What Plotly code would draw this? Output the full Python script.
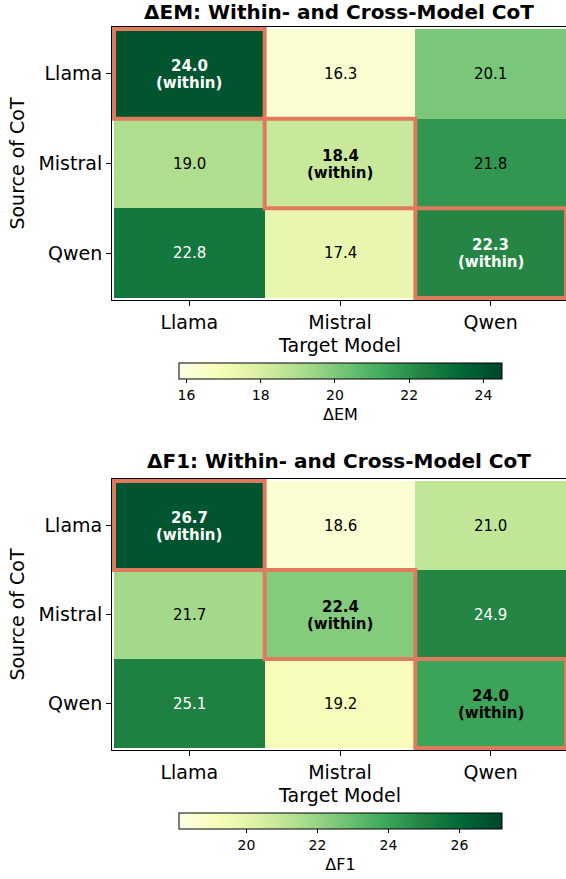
import plotly.graph_objects as go

# ---- data ----
sources = ["Llama", "Mistral", "Qwen"]          # rows: Source of CoT
targets = ["Llama", "Mistral", "Qwen"]          # cols: Target Model
em_values = [
    [24.0, 16.3, 20.1],
    [19.0, 18.4, 21.8],
    [22.8, 17.4, 22.3],
]
f1_values = [
    [26.7, 18.6, 21.0],
    [21.7, 22.4, 24.9],
    [25.1, 19.2, 24.0],
]
em_ticks = [16, 18, 20, 22, 24]
f1_ticks = [20, 22, 24, 26]
panel_titles = ["ΔEM: Within- and Cross-Model CoT", "ΔF1: Within- and Cross-Model CoT"]
cbar_titles = ["ΔEM", "ΔF1"]

# ---- styling ----
W, H = 570, 879          # slightly wider than the window: right edge is clipped as in the original
FONT = "DejaVu Sans"
YLGN = ["#ffffe5", "#f7fcb9", "#d9f0a3", "#addd8e", "#78c679",
        "#41ab5d", "#238443", "#006837", "#004529"]
HILITE = "#E07A5F"

def py(pix):
    return 1 - pix / H

def px_(pix):
    return pix / W

panels = [
    dict(vals=em_values, ticks=em_ticks, top=27, bot=300, cb_top=363, title_y=12),
    dict(vals=f1_values, ticks=f1_ticks, top=479, bot=750, cb_top=813, title_y=461),
]

fig = go.Figure()
annotations = []
shapes = []
layout = {}

for k, p in enumerate(panels):
    vals = p["vals"]
    flat = [v for row in vals for v in row]
    vmin, vmax = min(flat) - 0.5, max(flat) + 0.5
    ax = "" if k == 0 else str(k + 1)
    cax = "coloraxis" if k == 0 else f"coloraxis{k+1}"
    fig.add_trace(go.Heatmap(
        z=vals, x=targets, y=sources, coloraxis=cax,
        xaxis=f"x{ax}", yaxis=f"y{ax}", hoverinfo="skip",
        xgap=0, ygap=0,
    ))
    layout[cax] = dict(
        colorscale=[[i / (len(YLGN) - 1), c] for i, c in enumerate(YLGN)],
        cmin=vmin, cmax=vmax,
        colorbar=dict(
            orientation="h", x=px_((179 + 502) / 2), xanchor="center",
            len=323 / W, lenmode="fraction", thickness=16, thicknessmode="pixels",
            y=py(p["cb_top"]), yanchor="top", ypad=0, xpad=0,
            outlinewidth=1, outlinecolor="black",
            ticks="outside", ticklen=4, tickcolor="black", tickwidth=1,
            tickvals=p["ticks"], ticktext=[str(t) for t in p["ticks"]],
            tickfont=dict(family=FONT, size=14, color="black"),
            title=dict(text=cbar_titles[k], side="bottom",
                       font=dict(family=FONT, size=16, color="black")),
        ),
    )
    layout[f"xaxis{ax}"] = dict(
        domain=[px_(112), px_(568)], anchor=f"y{ax}",
        showline=True, mirror=True, linecolor="black", linewidth=1,
        ticks="outside", ticklen=5, tickcolor="black",
        tickfont=dict(family=FONT, size=19, color="black"),
        title=dict(text="Target Model", standoff=6,
                   font=dict(family=FONT, size=19, color="black")),
        showgrid=False, zeroline=False, fixedrange=True,
    )
    layout[f"yaxis{ax}"] = dict(
        domain=[py(p["bot"]), py(p["top"])], anchor=f"x{ax}",
        autorange="reversed",
        showline=True, mirror=True, linecolor="black", linewidth=1,
        ticks="outside", ticklen=5, tickcolor="black",
        tickfont=dict(family=FONT, size=19, color="black"),
        title=dict(text="Source of CoT", standoff=8,
                   font=dict(family=FONT, size=19, color="black")),
        showgrid=False, zeroline=False, fixedrange=True,
    )
    # panel title
    annotations.append(dict(
        text=f"<b>{panel_titles[k]}</b>", xref="paper", yref="paper",
        x=px_(339), y=py(p["title_y"]), xanchor="center", yanchor="middle",
        showarrow=False, font=dict(family=FONT, size=20, color="black"),
    ))
    # cell labels
    for i, s in enumerate(sources):
        for j, t in enumerate(targets):
            v = vals[i][j]
            norm = (v - vmin) / (vmax - vmin)
            col = "white" if norm > 0.7 else "black"
            if s == t:
                annotations.append(dict(
                    text=f"<b>{v:.1f}</b>", x=t, y=s, xref=f"x{ax}", yref=f"y{ax}",
                    showarrow=False, yshift=8,
                    font=dict(family=FONT, size=15, color=col)))
                annotations.append(dict(
                    text="<b>(within)</b>", x=t, y=s, xref=f"x{ax}", yref=f"y{ax}",
                    showarrow=False, yshift=-9,
                    font=dict(family=FONT, size=15, color=col)))
                shapes.append(dict(
                    type="rect", xref=f"x{ax}", yref=f"y{ax}",
                    x0=j - 0.5, x1=j + 0.5, y0=i - 0.5, y1=i + 0.5,
                    line=dict(color=HILITE, width=4), fillcolor="rgba(0,0,0,0)",
                ))
            else:
                annotations.append(dict(
                    text=f"{v:.1f}", x=t, y=s, xref=f"x{ax}", yref=f"y{ax}",
                    showarrow=False,
                    font=dict(family=FONT, size=15, color=col)))

fig.update_layout(
    width=W, height=H,
    margin=dict(l=0, r=0, t=0, b=0, autoexpand=False),
    paper_bgcolor="white", plot_bgcolor="white",
    showlegend=False,
    annotations=annotations, shapes=shapes,
    font=dict(family=FONT, color="black"),
    **layout,
)

fig.write_html("out.html",
               config={"displayModeBar": False},
               post_script="document.body.style.margin='0';document.body.style.overflow='hidden';")
